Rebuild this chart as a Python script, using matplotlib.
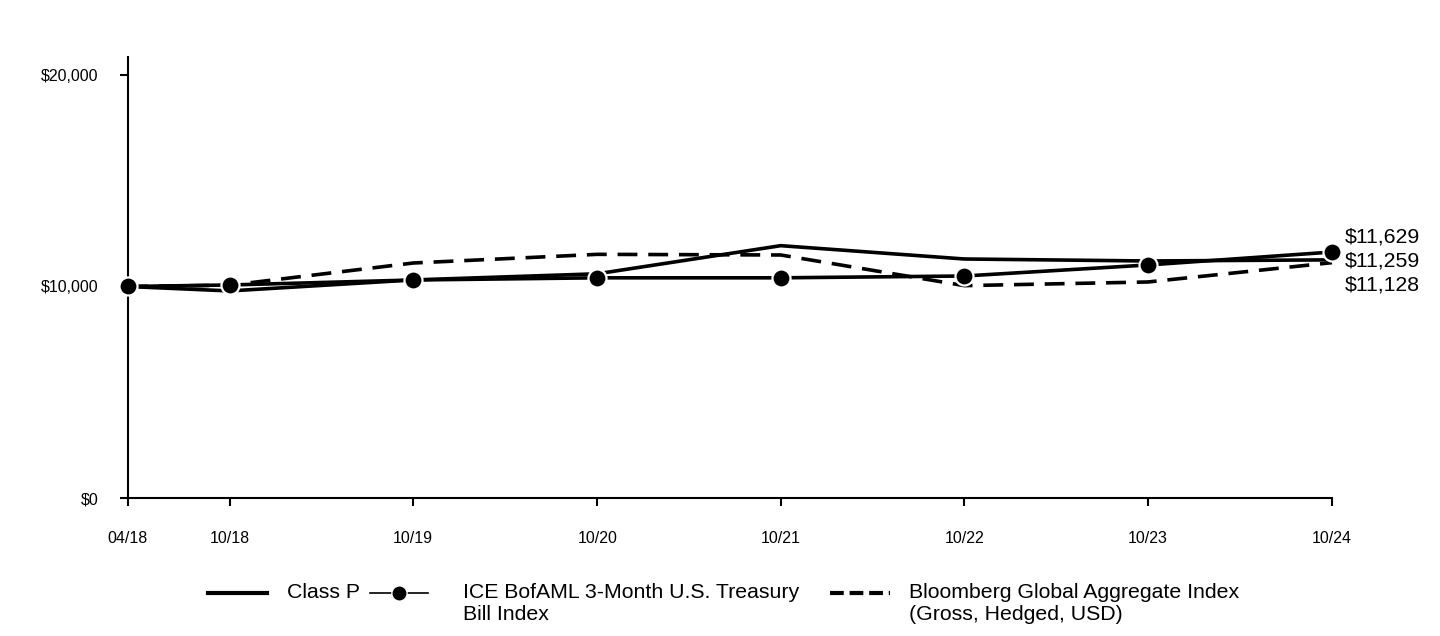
import matplotlib
matplotlib.use("Agg")
import matplotlib.pyplot as plt
from matplotlib.lines import Line2D
import pandas as pd

# ---- data ----
dates = ["2018-04-12", "2018-10-31", "2019-10-31", "2020-10-31",
         "2021-10-31", "2022-10-31", "2023-10-31", "2024-10-31"]
tick_labels = ["04/18", "10/18", "10/19", "10/20", "10/21", "10/22", "10/23", "10/24"]
class_p = [10000, 9790, 10310, 10600, 11930, 11300, 11206, 11259]
treasury = [10000, 10071, 10307, 10410, 10410, 10496, 11017, 11629]
bloomberg = [10000, 10060, 11110, 11520, 11489, 10040, 10213, 11128]
series_names = ["Class P", "ICE BofAML 3-Month U.S. Treasury\nBill Index",
                "Bloomberg Global Aggregate Index\n(Gross, Hedged, USD)"]
end_labels = ["$11,629", "$11,259", "$11,128"]
y_ticks = [0, 10000, 20000]
y_tick_labels = ["$0", "$10,000", "$20,000"]

x = pd.to_datetime(dates)

plt.rcParams['font.family'] = ['Liberation Sans', 'DejaVu Sans']

W, H = 1440, 636
fig = plt.figure(figsize=(W / 100, H / 100), dpi=100)
ax = fig.add_axes([128 / W, 1 - 498 / H, (1332 - 128) / W, (498 - 57) / H])

ax.plot(x, class_p, color="black", lw=2.6, zorder=3, clip_on=False)
ax.plot(x, bloomberg, color="black", lw=2.6, dashes=(5.5, 3.0), zorder=3, clip_on=False)
ax.plot(x, treasury, color="black", lw=2.6, marker="o", markersize=13,
        markerfacecolor="black", markeredgecolor="white", markeredgewidth=1.6,
        zorder=4, clip_on=False)

ax.set_xlim(x[0], x[-1])
ax.set_ylim(0, 20850)
ax.set_xticks(x)
ax.set_xticklabels(tick_labels)
ax.set_yticks(y_ticks)
ax.set_yticklabels(y_tick_labels)

for s in ["top", "right"]:
    ax.spines[s].set_visible(False)
for s in ["left", "bottom"]:
    ax.spines[s].set_linewidth(1.5)
ax.tick_params(axis="x", direction="out", length=6, width=1.5, pad=17.5, labelsize=11.5)
ax.tick_params(axis="y", direction="out", length=6, width=1.5, pad=15, labelsize=11.5)

# end value labels
offsets = [23, -1, -25]
for lab, off in zip(end_labels, offsets):
    ax.annotate(lab, xy=(x[-1], class_p[-1]), xytext=(13, off),
                textcoords="offset pixels", ha="left", va="center",
                fontsize=15.3, annotation_clip=False)

# legend (manual, aligned to first text line)
ly1 = 1 - 593 / H
ly2 = 1 - 615 / H
fs = 15.3
fig.add_artist(Line2D([208 / W, 267 / W], [ly1, ly1], color="black", lw=3,
                      transform=fig.transFigure))
fig.text(287 / W, ly1, series_names[0], fontsize=fs, va="center", ha="left")
fig.add_artist(Line2D([370 / W, 428 / W], [ly1, ly1], color="black", lw=1.2,
                      transform=fig.transFigure))
fig.add_artist(Line2D([399 / W], [ly1], color="black", marker="o", markersize=11,
                      markerfacecolor="black", markeredgecolor="white",
                      markeredgewidth=1.0, transform=fig.transFigure))
l2a, l2b = series_names[1].split("\n")
fig.text(463 / W, ly1, l2a, fontsize=fs, va="center", ha="left")
fig.text(463 / W, ly2, l2b, fontsize=fs, va="center", ha="left")
fig.add_artist(Line2D([830 / W, 890 / W], [ly1, ly1], color="black", lw=3,
                      dashes=(3.3, 1.4), transform=fig.transFigure))
l3a, l3b = series_names[2].split("\n")
fig.text(909 / W, ly1, l3a, fontsize=fs, va="center", ha="left")
fig.text(909 / W, ly2, l3b, fontsize=fs, va="center", ha="left")

fig.savefig("out.png", dpi=100)
